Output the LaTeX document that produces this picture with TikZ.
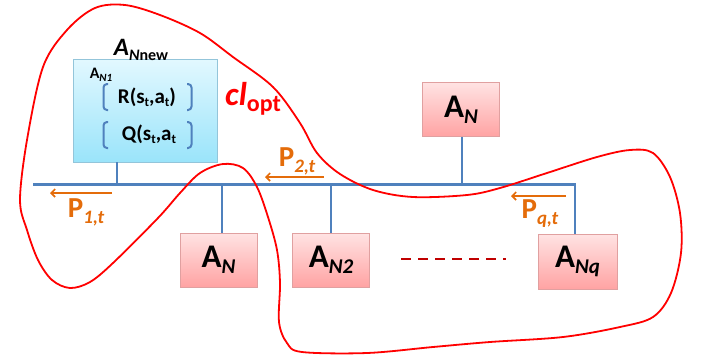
\documentclass[tikz,border=0pt]{standalone}
\usepackage{fontspec}
\setmainfont{Carlito}
\usetikzlibrary{arrows.meta}
\definecolor{busblue}{HTML}{4F81BD}
\definecolor{loopred}{HTML}{FF0000}
\definecolor{porange}{HTML}{E46C0A}
\definecolor{dashred}{HTML}{C00000}
\definecolor{pinktop}{HTML}{FFE3E3}
\definecolor{pinkbot}{HTML}{FFA3A3}
\definecolor{pinkedge}{HTML}{E0A0A0}
\definecolor{bluetop}{HTML}{E2F8FF}
\definecolor{bluebot}{HTML}{9AE4FA}
\definecolor{blueedge}{HTML}{93C5DA}
\newcommand{\fs}[1]{\fontsize{#1}{#1}\selectfont}
\newcommand{\lowsub}[3]{\raisebox{-#1}{\fs{#2}#3}}
\begin{document}
\begin{tikzpicture}[x=1pt,y=-1pt,
  agent/.style={draw=pinkedge, line width=0.8pt, top color=pinktop, bottom color=pinkbot,
    minimum width=77pt, minimum height=54pt, inner sep=0pt, font=\fs{33}\bfseries},
  newbox/.style={draw=blueedge, line width=0.8pt, top color=bluetop, bottom color=bluebot,
    minimum width=144pt, minimum height=103pt, inner sep=0pt},
  bus/.style={draw=busblue, line width=2.2pt},
  brk/.style={draw=busblue, line width=2pt, rounded corners=3.5pt},
  ploop/.style={draw=loopred, line width=1.8pt},
  parrow/.style={draw=porange, line width=1.6pt, -{Straight Barb[length=4pt,width=8pt]}},
  plabel/.style={text=porange, inner sep=0pt, font=\fs{29}\bfseries},
  txt/.style={inner sep=0pt}
]
\useasboundingbox (0,0) rectangle (702,360);

% boxes
\node[newbox] (anew) at (145,110.5) {};
\node[agent] (antop) at (461,109.5) {A\lowsub{6pt}{21}{\itshape N}};
\node[agent] (anb) at (218.5,260) {A\lowsub{6pt}{21}{\itshape N}};
\node[agent] (an2) at (331,260) {A\lowsub{6pt}{21}{\itshape N2}};
\node[agent, minimum width=79pt, minimum height=55pt] (anq) at (577.5,261.5) {A\lowsub{6pt}{21}{\itshape Nq}};

% labels of the new agent
\node[txt] (lnew) at (141,50) {\fs{25}\bfseries\itshape A\lowsub{5pt}{16}{\bfseries\itshape N\upshape new}};
\node[txt] (ln1) at (101,75) {\fs{16}\bfseries A\lowsub{3pt}{11}{\bfseries\itshape N1}};
\node[txt] (lr) at (147,97) {\fs{21}\bfseries R(s\lowsub{3pt}{13}{t},a\lowsub{3pt}{13}{t})};
\node[txt] (lq) at (149,134) {\fs{21}\bfseries Q(s\lowsub{3pt}{13}{t},a\lowsub{3pt}{13}{t}};
\draw[brk] (108,84) -- (103.5,84) -- (103.5,110) -- (108,110);
\draw[brk] (187,84) -- (191.5,84) -- (191.5,110) -- (187,110);
\draw[brk] (108,122) -- (103.5,122) -- (103.5,148) -- (108,148);
\draw[brk] (187,122) -- (191.5,122) -- (191.5,148) -- (187,148);

\node[txt, text=loopred] (clopt) at (253,99) {\fs{33}\bfseries\itshape cl\lowsub{6pt}{24}{\upshape opt}};

% bus
\coordinate (busL) at (33,184.5);
\coordinate (busR) at (575,184.5);
\coordinate (j1) at (117,184.5);
\coordinate (j2) at (222,184.5);
\coordinate (j3) at (331,184.5);
\coordinate (j4) at (462,184.5);
\draw[bus] (busL) -- (busR) -- (anq.north -| busR);
\draw[bus] (anew.south -| j1) -- (j1);
\draw[bus] (j2) -- (anb.north -| j2);
\draw[bus] (j3) -- (an2.north -| j3);
\draw[bus] (antop.south -| j4) -- (j4);

% dashed ellipsis
\coordinate (d1) at (401,259);
\coordinate (d2) at (506,259);
\draw[dashred, line width=2pt, dash pattern=on 10pt off 7pt] (d1) -- (d2);

% P arrows and labels
\coordinate (p1s) at (112,193); \coordinate (p1e) at (50,193);
\draw[parrow] (p1s) -- (p1e);
\node[plabel] (p1) at (86,212) {P\lowsub{6pt}{19}{\itshape 1,t}};
\coordinate (p2s) at (324,177); \coordinate (p2e) at (265,177);
\draw[parrow] (p2s) -- (p2e);
\node[plabel] (p2) at (297,161) {P\lowsub{6pt}{19}{\itshape 2,t}};
\coordinate (pqs) at (566,196); \coordinate (pqe) at (511,196);
\draw[parrow] (pqs) -- (pqe);
\node[plabel] (pq) at (540,214) {P\lowsub{6pt}{19}{\itshape q,t}};

% red loop
\draw[ploop] plot[smooth cycle, tension=0.55] coordinates {
 (20,200) (27,140) (43,67) (67,30) (95,8) (125,5) (160,15) (200,33) (233,57)
 (273,87) (300,123) (317,153) (340,174) (373,190) (413,197) (467,195) (500,188)
 (547,173) (597,157) (630,150) (653,153) (670,177) (680,213) (681,253) (671,293)
 (653,317) (620,327) (563,337) (490,342) (433,347) (367,353) (302,352) (287,343)
 (279,322) (280,283) (277,250) (268,217) (257,187) (243,168) (223,164) (200,173)
 (180,193) (158,218) (113,263) (90,282) (70,288) (52,280) (38,260) (27,230)};
\end{tikzpicture}
\end{document}
